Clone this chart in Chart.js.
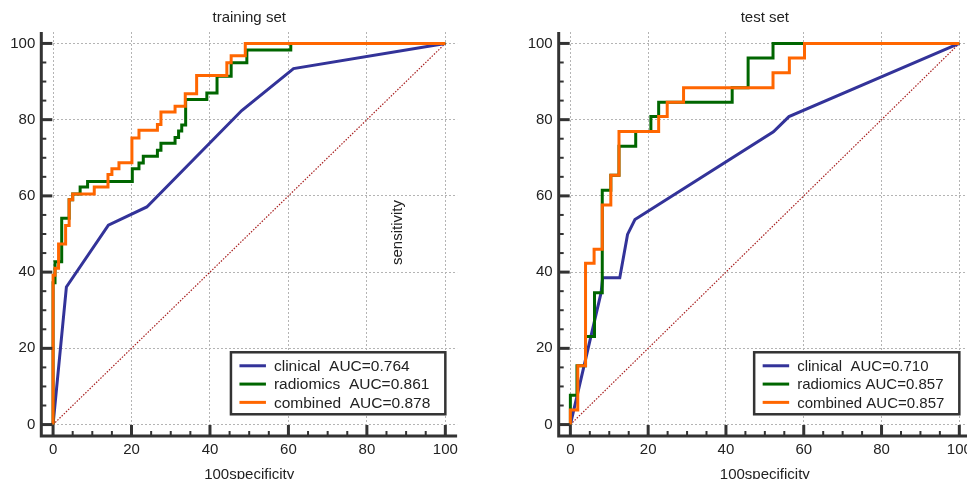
<!DOCTYPE html>
<html>
<head>
<meta charset="utf-8">
<script src="https://cdn.jsdelivr.net/npm/chart.js@4.4.0/dist/chart.umd.min.js"></script>
<style>
  html, body { margin: 0; padding: 0; background: #fff; overflow: hidden; width: 967px; height: 479px; position: relative; }
  canvas { position: absolute; top: 0; }
  #train { left: 0; }
  #test { left: 487px; }
</style>
</head>
<body>
<canvas id="train" width="483" height="479"></canvas>
<canvas id="test" width="500" height="479"></canvas>
<script>
// tick labels on both axes
const majorTicks = [0, 20, 40, 60, 80, 100];

// reference line
const diagonal = [[0, 0], [100, 100]];

// training set curves, [100-specificity, sensitivity]
const trainClinical = [[0, 0], [3.4, 36.1], [14.1, 52.3], [23.9, 57.1], [48.1, 82.4], [61.3, 93.4], [100, 100]];
const trainRadiomics = [[0, 0], [0, 37.2], [0.5, 42.7], [2.2, 54.1], [4.1, 59.0], [5.0, 60.5], [6.9, 62.3], [8.8, 63.8],
  [20.2, 67.1], [21.9, 68.6], [23.0, 70.4], [26.6, 72.0], [27.5, 73.8], [31.1, 75.3], [32.0, 77.0], [32.8, 78.6],
  [33.8, 85.3], [39.2, 87.0], [41.8, 91.4], [45.4, 94.9], [49.4, 98.3], [60.6, 100], [100, 100]];
const trainCombined = [[0, 0], [0, 39.2], [0.5, 41.0], [1.4, 47.4], [3.2, 52.2], [4.1, 59.0], [5.0, 60.5], [10.5, 62.3],
  [14.0, 65.6], [15.0, 67.1], [16.8, 68.7], [20.1, 75.2], [21.9, 77.2], [26.6, 78.7], [27.5, 82.0], [31.1, 83.5],
  [33.7, 86.8], [36.6, 91.6], [44.3, 94.9], [45.4, 96.8], [49.0, 100], [100, 100]];
const trainLabels = ['clinical  AUC=0.764', 'radiomics  AUC=0.861', 'combined  AUC=0.878'];

// test set curves
const testClinical = [[0, 0], [7.9, 34.6], [8.3, 38.5], [12.7, 38.5], [14.7, 49.9], [16.6, 53.8], [52.2, 76.8], [56.2, 80.8], [100, 100]];
const testRadiomics = [[0, 0], [0, 7.7], [1.7, 15.4], [3.9, 23.1], [6.2, 34.6], [8.2, 61.5], [10.4, 65.4], [12.5, 73.0],
  [16.8, 76.9], [20.7, 80.8], [22.7, 84.6], [41.6, 88.4], [45.7, 96.2], [52.1, 100], [100, 100]];
const testCombined = [[0, 0], [0, 3.8], [1.9, 15.4], [3.9, 42.3], [6.1, 46.0], [8.2, 57.6], [10.4, 65.4], [12.5, 76.9],
  [22.7, 80.8], [24.9, 84.6], [29.1, 88.4], [52.1, 92.3], [56.3, 96.2], [60.2, 100], [100, 100]];
const testLabels = ['clinical  AUC=0.710', 'radiomics AUC=0.857', 'combined AUC=0.857'];

Chart.defaults.font.family = "'Liberation Sans', Arial, sans-serif";
Chart.defaults.color = '#222';

const toPts = arr => arr.map(p => ({ x: p[0], y: p[1] }));

// axes with inward ticks, legend box, stray y title
const framePlugin = {
  id: 'frame',
  afterDraw(chart, args, opts) {
    const { ctx, chartArea: a, scales: { x, y } } = chart;
    ctx.save();
    ctx.strokeStyle = '#333';
    for (let v = 0; v <= 100; v += 5) {
      const major = v % 20 === 0;
      const len = major ? 11 : 5;
      ctx.lineWidth = major ? 3 : 2;
      const py = y.getPixelForValue(v);
      ctx.beginPath(); ctx.moveTo(a.left, py); ctx.lineTo(a.left + len, py); ctx.stroke();
      const px = x.getPixelForValue(v);
      ctx.beginPath(); ctx.moveTo(px, a.bottom); ctx.lineTo(px, a.bottom - len); ctx.stroke();
    }
    ctx.lineWidth = 3;
    ctx.beginPath();
    ctx.moveTo(a.left, a.top);
    ctx.lineTo(a.left, a.bottom);
    ctx.lineTo(a.right, a.bottom);
    ctx.stroke();

    // legend
    const sets = chart.data.datasets.filter(d => d.label);
    ctx.font = opts.legendFont;
    const tw = Math.max(...sets.map(d => ctx.measureText(d.label).width));
    const w = 43 + tw + 15, h = 62;
    const right = x.getPixelForValue(100);
    const bottom = y.getPixelForValue(2.7);
    const left = right - w, top = bottom - h;
    ctx.fillStyle = '#fff';
    ctx.fillRect(left, top, w, h);
    ctx.lineWidth = 2.5;
    ctx.strokeStyle = '#333';
    ctx.strokeRect(left, top, w, h);
    ctx.textBaseline = 'middle';
    ctx.textAlign = 'left';
    sets.forEach((d, i) => {
      const cy = top + 13.5 + i * 18.3;
      ctx.strokeStyle = d.borderColor;
      ctx.lineWidth = 3;
      ctx.beginPath(); ctx.moveTo(left + 8.5, cy); ctx.lineTo(left + 35, cy); ctx.stroke();
      ctx.fillStyle = '#222';
      ctx.fillText(d.label, left + 43, cy + 1);
    });

    if (opts.yTitle) {
      ctx.translate(x.getPixelForValue(opts.yTitle.at[0]), y.getPixelForValue(opts.yTitle.at[1]));
      ctx.rotate(-Math.PI / 2);
      ctx.font = "15px 'Liberation Sans', Arial, sans-serif";
      ctx.textAlign = 'center';
      ctx.fillStyle = '#222';
      ctx.fillText(opts.yTitle.text, 0, 0);
    }
    ctx.restore();
  }
};

function makeChart(id, o) {
  const canvas = document.getElementById(id);
  const W = canvas.width, H = canvas.height;
  const colors = ['#333399', '#006600', '#ff6600'];
  const datasets = o.series.map((s, i) => ({
    label: o.labels[i],
    data: toPts(s),
    borderColor: colors[i],
    borderWidth: 3,
    pointRadius: 0,
    stepped: i > 0 ? 'before' : false,
    order: 3 - i
  }));
  datasets.push({
    data: toPts(diagonal),
    borderColor: '#a82020',
    borderWidth: 1.2,
    borderDash: [1.5, 1.5],
    pointRadius: 0,
    order: 9
  });

  const fixTicks = s => { s.ticks = majorTicks.map(v => ({ value: v })); };
  const grid = { color: '#b4b4b4', lineWidth: 1, drawTicks: false };

  new Chart(canvas, {
    type: 'line',
    data: { datasets },
    plugins: [framePlugin],
    options: {
      responsive: false,
      animation: false,
      layout: { padding: { left: 0, top: 0, bottom: 0, right: W - o.area.right } },
      scales: {
        x: {
          type: 'linear', min: -3, max: 103,
          afterBuildTicks: fixTicks,
          afterFit: s => { s.height = H - o.area.bottom; },
          grid,
          border: { display: false, dash: [2, 2] },
          ticks: { padding: 5, font: { size: 15 }, color: '#222' },
          title: { display: true, text: '100specificity', font: { size: 15 }, color: '#222', padding: { top: 0, bottom: -5 } }
        },
        y: {
          type: 'linear', min: -3, max: 103,
          afterBuildTicks: fixTicks,
          afterFit: s => { s.width = o.area.left; },
          grid,
          border: { display: false, dash: [2, 2] },
          ticks: { padding: 6, font: { size: 15 }, color: '#222' }
        }
      },
      plugins: {
        legend: { display: false },
        tooltip: { enabled: false },
        title: {
          display: true, text: o.title, fullSize: false, color: '#222',
          font: { size: 15, weight: 'normal' },
          padding: { top: 9, bottom: 5 }
        },
        frame: { legendFont: o.legendFont, yTitle: o.yTitle }
      }
    }
  });
}

makeChart('train', {
  title: 'training set',
  series: [trainClinical, trainRadiomics, trainCombined],
  labels: trainLabels,
  area: { left: 41.3, right: 457.1, bottom: 436 },
  legendFont: "15.5px 'Liberation Sans', Arial, sans-serif",
  yTitle: { text: 'sensitivity', at: [88, 50.4] }
});

makeChart('test', {
  title: 'test set',
  series: [testClinical, testRadiomics, testCombined],
  labels: testLabels,
  area: { left: 71.7, right: 484, bottom: 436 },
  legendFont: "15px 'Liberation Sans', Arial, sans-serif",
  yTitle: null
});
</script>
</body>
</html>
